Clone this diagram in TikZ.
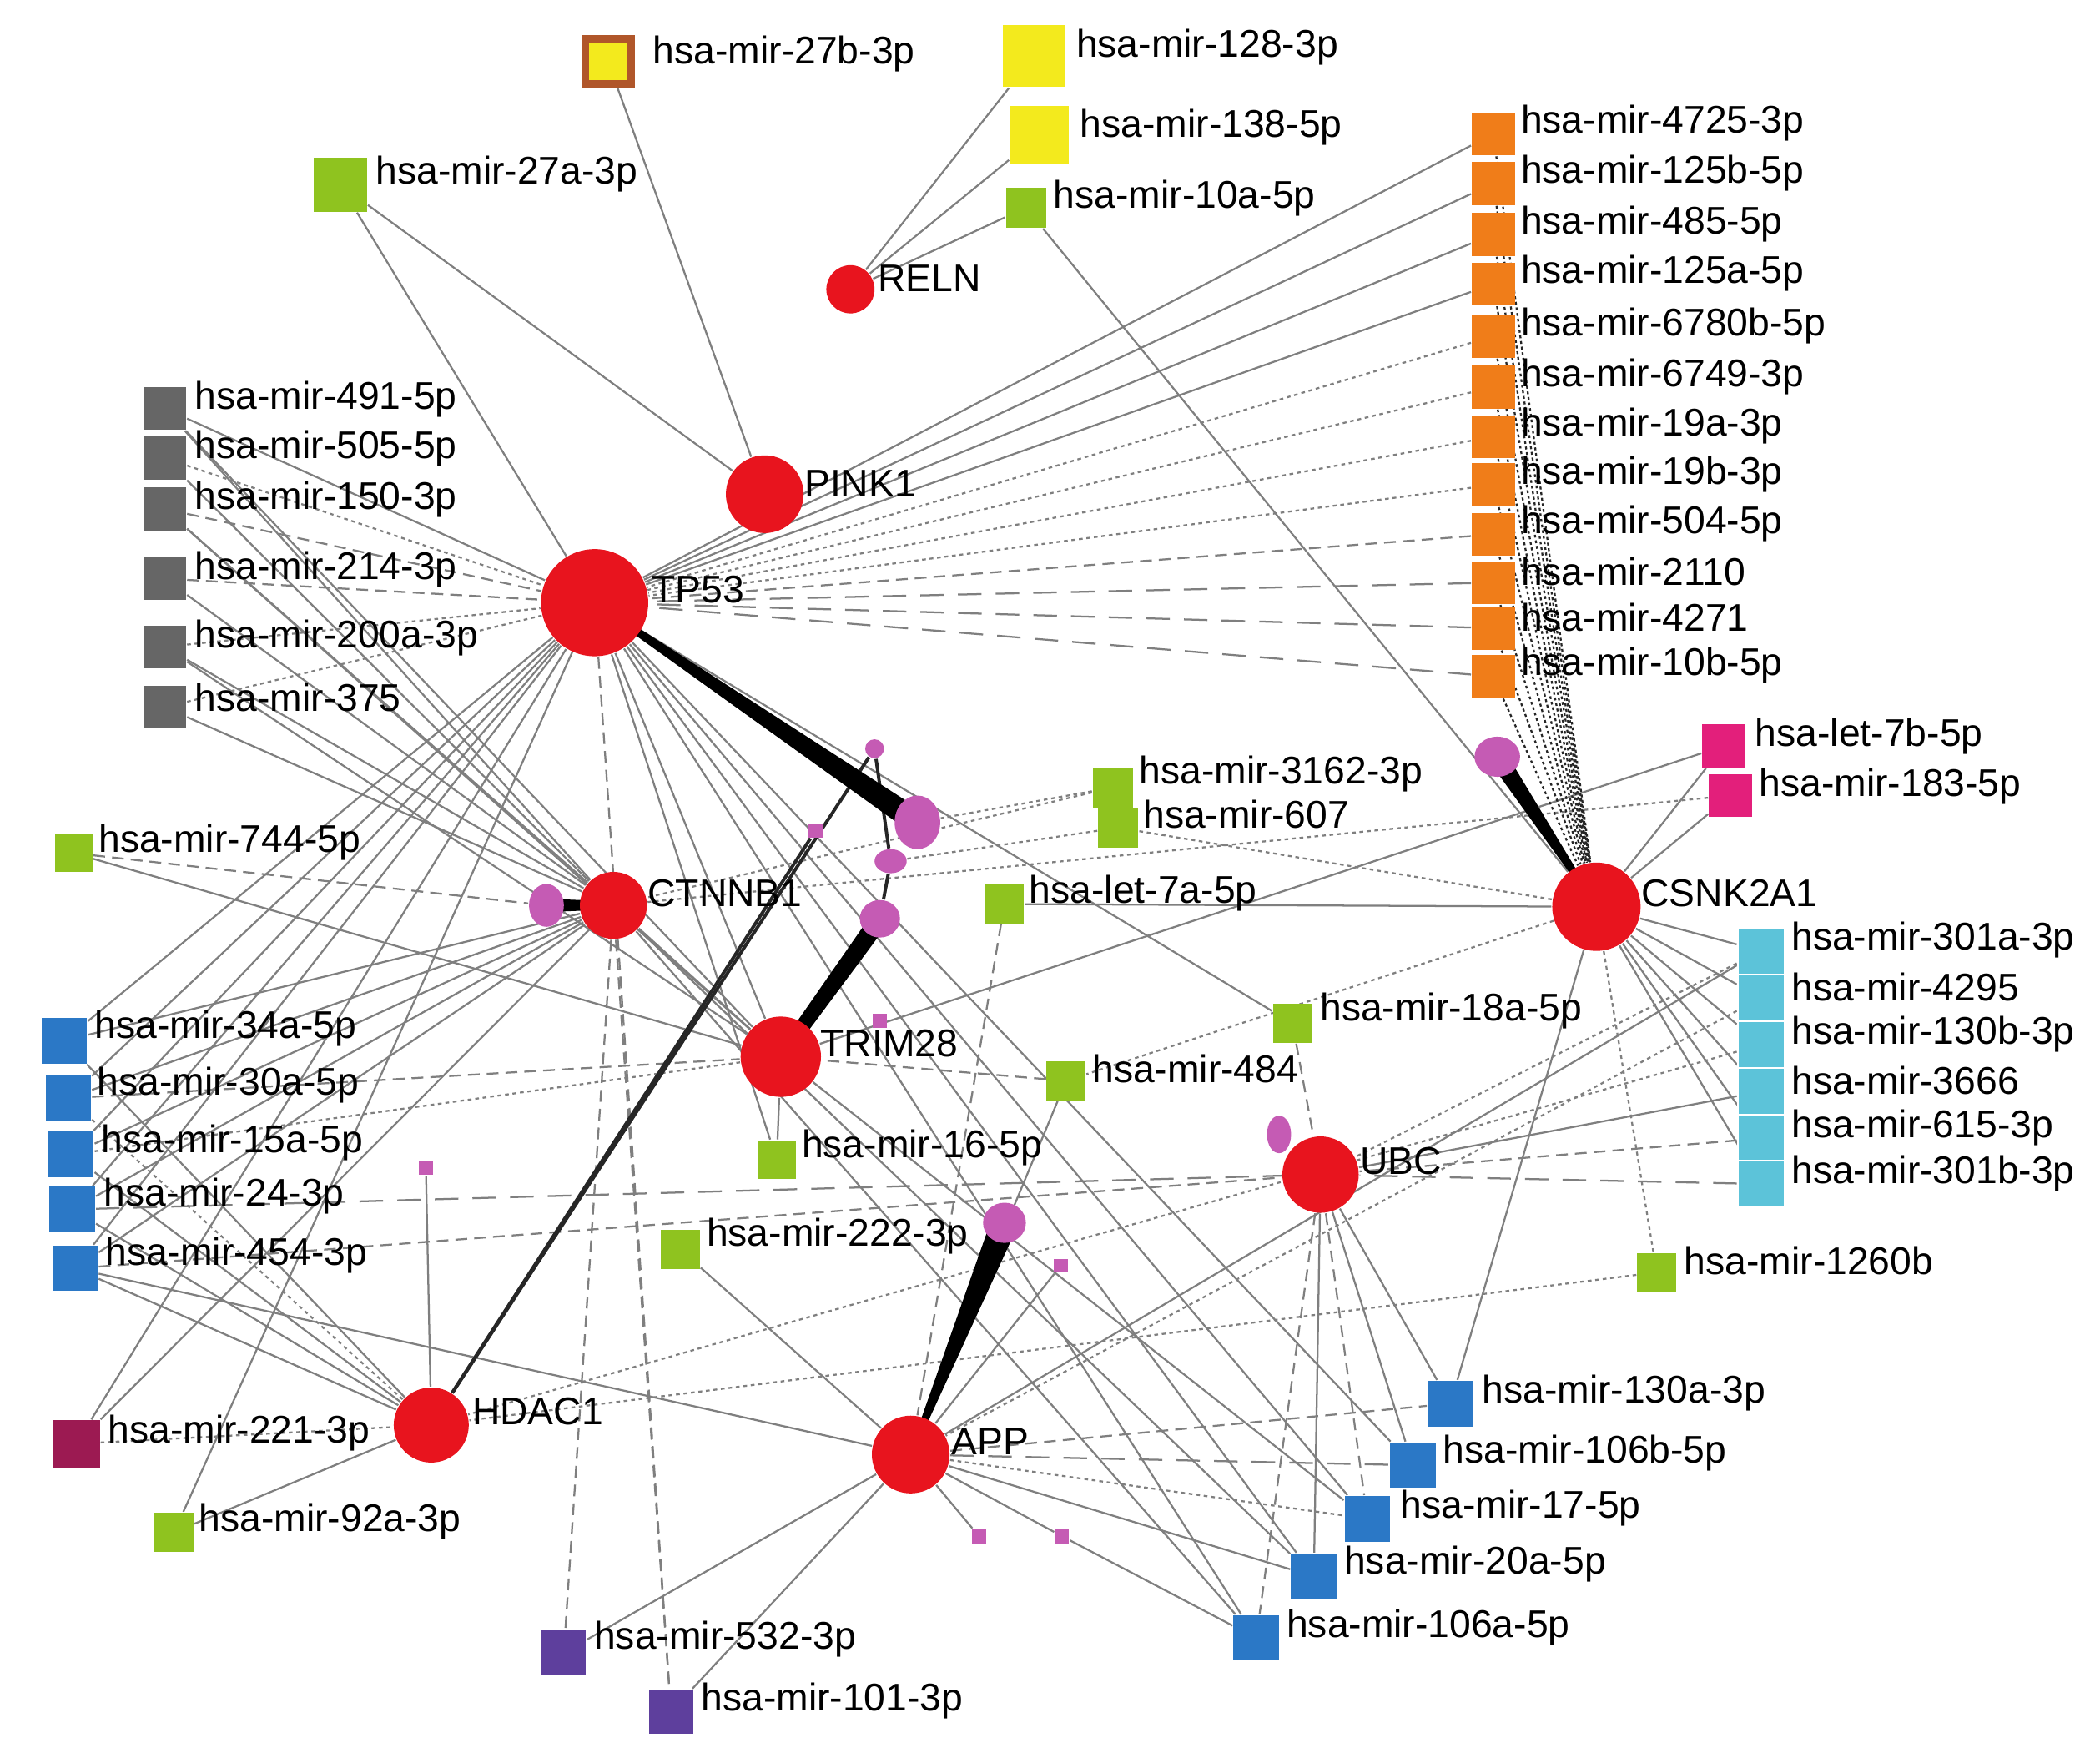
\documentclass[tikz,border=0pt]{standalone}
\usepackage{fontspec}
\setmainfont{Liberation Sans}
\usetikzlibrary{shapes.geometric,backgrounds,calc}
\definecolor{gred}{HTML}{E8141E}
\definecolor{orch}{HTML}{C55BB4}
\definecolor{ggrey}{HTML}{666666}
\definecolor{gorange}{HTML}{F07D19}
\definecolor{gyellow}{HTML}{F3EA1D}
\definecolor{ggreen}{HTML}{8FC31F}
\definecolor{gblue}{HTML}{2B78C6}
\definecolor{gcyan}{HTML}{5CC3D9}
\definecolor{gpink}{HTML}{E31F7B}
\definecolor{gcrim}{HTML}{9C1A52}
\definecolor{gpurp}{HTML}{5E3F9D}
\definecolor{gbrown}{HTML}{B0562A}
\definecolor{edgec}{HTML}{7F7F7F}
\begin{document}
\begin{tikzpicture}[x=0.1mm,y=-0.1mm,
  gene/.style={circle,fill=gred,inner sep=0pt},
  mir/.style={rectangle,inner sep=0pt,minimum size=#1},
  mir/.default=3.2mm,
  lab/.style={anchor=west,inner sep=0pt,font=\fontsize{8.2}{9}\selectfont},
  blob/.style={ellipse,fill=orch,inner sep=0pt},
  psq/.style={rectangle,fill=orch,inner sep=0pt,minimum size=1.05mm},
  es/.style={draw=edgec,line width=0.4pt},
  ed/.style={es,dash pattern=on 0.8pt off 0.8pt},
  eh/.style={es,dash pattern=on 2.5pt off 1.5pt},
  el/.style={es,dash pattern=on 5pt off 3pt},
  efan/.style={draw=black!85,line width=0.4pt,dash pattern=on 0.6pt off 0.6pt},
  eblack/.style={draw=black!85,line width=0.7pt}
]
\useasboundingbox (0,0) rectangle (1568,1312);

% ---------- genes ----------
\node[gene,minimum size=3.6mm] (reln) at (635,216) {};
\node[gene,minimum size=5.8mm] (pink1) at (571,369) {};
\node[gene,minimum size=8.0mm] (tp53) at (444,450) {};
\node[gene,minimum size=5.0mm] (ctnnb1) at (458,676) {};
\node[gene,minimum size=6.0mm] (trim28) at (583,789) {};
\node[gene,minimum size=5.7mm] (ubc) at (986,877) {};
\node[gene,minimum size=6.6mm] (csnk) at (1192,677) {};
\node[gene,minimum size=5.6mm] (hdac1) at (322,1064) {};
\node[gene,minimum size=5.8mm] (app) at (680,1086) {};

\node[lab] (lreln) at (655,208) {RELN};
\node[lab] (lpink1) at (600,361) {PINK1};
\node[lab] (ltp53) at (486,440) {TP53};
\node[lab] (lctnnb1) at (483,667) {CTNNB1};
\node[lab] (ltrim28) at (612,779) {TRIM28};
\node[lab] (lubc) at (1015,867) {UBC};
\node[lab] (lcsnk) at (1225,667) {CSNK2A1};
\node[lab] (lhdac1) at (352,1054) {HDAC1};
\node[lab] (lapp) at (710,1076) {APP};

% ---------- top miRNAs ----------
\node[mir=3.4mm,fill=gyellow,draw=gbrown,line width=0.6mm] (m27b) at (454,46) {};
\node[lab] (l27b) at (487,40) {hsa-mir-27b-3p};
\node[mir=4.6mm,fill=gyellow] (m128) at (772,42) {};
\node[lab] (l128) at (803,35) {hsa-mir-128-3p};
\node[mir=4.4mm,fill=gyellow] (m138) at (776,101) {};
\node[lab] (l138) at (806,95) {hsa-mir-138-5p};
\node[mir=3.0mm,fill=ggreen] (m10a) at (766,155) {};
\node[lab] (l10a) at (786,148) {hsa-mir-10a-5p};
\node[mir=4.0mm,fill=ggreen] (m27a) at (254,138) {};
\node[lab] (l27a) at (280,130) {hsa-mir-27a-3p};

% ---------- grey column ----------
\foreach \n/\y/\t in {g491/305/491-5p,g505/342/505-5p,g150/380/150-3p,g214/432/214-3p,g200a/483/200a-3p,g375/528/375}{
  \node[mir=3.2mm,fill=ggrey] (\n) at (123,\y) {};
  \node[lab] (l\n) at (145,\y-7) {hsa-mir-\t};
}

% ---------- orange column ----------
\foreach \n/\y/\t in {o4725/100/4725-3p,o125b/137/125b-5p,o485/175/485-5p,o125a/212/125a-5p,o6780b/251/6780b-5p,o6749/289/6749-3p,o19a/326/19a-3p,o19b/362/19b-3p,o504/399/504-5p,o2110/435/2110,o4271/469/4271,o10b/505/10b-5p}{
  \node[mir=3.2mm,fill=gorange] (\n) at (1115,\y) {};
  \node[lab] (l\n) at (1135,\y-8) {hsa-mir-\t};
}

% ---------- pink ----------
\node[mir=3.2mm,fill=gpink] (p7b) at (1287,557) {};
\node[lab] (lp7b) at (1310,550) {hsa-let-7b-5p};
\node[mir=3.2mm,fill=gpink] (p183) at (1292,594) {};
\node[lab] (lp183) at (1313,587) {hsa-mir-183-5p};

% ---------- cyan column ----------
\foreach \n/\y/\t in {c301a/710/301a-3p,c4295/745/4295,c130b/780/130b-3p,c3666/815/3666,c615/850/615-3p,c301b/884/301b-3p}{
  \node[mir=3.5mm,fill=gcyan,draw=white,line width=0.15mm] (\n) at (1315,\y) {};
  \node[lab] (l\n) at (1337,\y-8) {hsa-mir-\t};
}

% ---------- green middle ----------
\node[mir=2.8mm,fill=ggreen] (m744) at (55,637) {};
\node[lab] (l744) at (73,629) {hsa-mir-744-5p};
\node[mir=3.0mm,fill=ggreen] (m3162) at (831,588) {};
\node[lab] (l3162) at (850,578) {hsa-mir-3162-3p};
\node[mir=3.0mm,fill=ggreen] (m607) at (835,618) {};
\node[lab] (l607) at (853,608) {hsa-mir-607};
\node[mir=2.9mm,fill=ggreen] (m7a) at (750,675) {};
\node[lab] (l7a) at (768,667) {hsa-let-7a-5p};
\node[mir=2.9mm,fill=ggreen] (m18a) at (965,764) {};
\node[lab] (l18a) at (985,755) {hsa-mir-18a-5p};
\node[mir=2.9mm,fill=ggreen] (m484) at (796,807) {};
\node[lab] (l484) at (815,798) {hsa-mir-484};
\node[mir=2.9mm,fill=ggreen] (m16) at (580,866) {};
\node[lab] (l16) at (598,857) {hsa-mir-16-5p};
\node[mir=2.9mm,fill=ggreen] (m222) at (508,933) {};
\node[lab] (l222) at (527,923) {hsa-mir-222-3p};
\node[mir=2.9mm,fill=ggreen] (m1260b) at (1237,950) {};
\node[lab] (l1260b) at (1257,941) {hsa-mir-1260b};
\node[mir=2.9mm,fill=ggreen] (m92a) at (130,1144) {};
\node[lab] (l92a) at (148,1136) {hsa-mir-92a-3p};

% ---------- blue left ----------
\node[mir=3.4mm,fill=gblue] (b34a) at (48,777) {};
\node[lab] (lb34a) at (70,768) {hsa-mir-34a-5p};
\node[mir=3.4mm,fill=gblue] (b30a) at (51,820) {};
\node[lab] (lb30a) at (72,810) {hsa-mir-30a-5p};
\node[mir=3.4mm,fill=gblue] (b15a) at (53,862) {};
\node[lab] (lb15a) at (75,853) {hsa-mir-15a-5p};
\node[mir=3.4mm,fill=gblue] (b24) at (54,903) {};
\node[lab] (lb24) at (77,893) {hsa-mir-24-3p};
\node[mir=3.4mm,fill=gblue] (b454) at (56,947) {};
\node[lab] (lb454) at (78,937) {hsa-mir-454-3p};
\node[mir=3.5mm,fill=gcrim] (m221) at (57,1078) {};
\node[lab] (l221) at (80,1070) {hsa-mir-221-3p};

% ---------- purple ----------
\node[mir=3.3mm,fill=gpurp] (v532) at (421,1234) {};
\node[lab] (lv532) at (443,1224) {hsa-mir-532-3p};
\node[mir=3.3mm,fill=gpurp] (v101) at (501,1278) {};
\node[lab] (lv101) at (523,1270) {hsa-mir-101-3p};

% ---------- blue bottom right ----------
\node[mir=3.4mm,fill=gblue] (b130a) at (1083,1048) {};
\node[lab] (lb130a) at (1106,1040) {hsa-mir-130a-3p};
\node[mir=3.4mm,fill=gblue] (b106b) at (1055,1094) {};
\node[lab] (lb106b) at (1077,1085) {hsa-mir-106b-5p};
\node[mir=3.4mm,fill=gblue] (b17) at (1021,1134) {};
\node[lab] (lb17) at (1045,1126) {hsa-mir-17-5p};
\node[mir=3.4mm,fill=gblue] (b20a) at (981,1177) {};
\node[lab] (lb20a) at (1003,1168) {hsa-mir-20a-5p};
\node[mir=3.4mm,fill=gblue] (b106a) at (938,1223) {};
\node[lab] (lb106a) at (960,1215) {hsa-mir-106a-5p};

% ---------- pink blobs ----------
\node[blob,minimum width=3.4mm,minimum height=4.0mm] (bA) at (685,614) {};
\node[blob,minimum width=1.4mm,minimum height=1.4mm] (bB) at (653,559) {};
\node[psq] (bC) at (609,620) {};
\node[blob,minimum width=2.4mm,minimum height=1.8mm] (bD) at (665,643) {};
\node[blob,minimum width=3.0mm,minimum height=2.8mm] (bE) at (657,686) {};
\node[psq] (bF) at (657,762) {};
\node[blob,minimum width=2.6mm,minimum height=3.2mm] (bCt) at (408,676) {};
\node[blob,minimum width=1.8mm,minimum height=2.8mm] (bU) at (955,847) {};
\node[blob,minimum width=3.4mm,minimum height=3.0mm] (bCs) at (1118,565) {};
\node[blob,minimum width=3.2mm,minimum height=3.0mm] (bAp) at (750,913) {};
\node[psq] (sq1) at (318,872) {};
\node[psq] (sq2) at (792,945) {};
\node[psq] (sq3) at (731,1147) {};
\node[psq] (sq4) at (793,1147) {};

% ---------- edges ----------
\begin{pgfonlayer}{background}
\fill[white] (0,0) rectangle (1568,1312);
\foreach \a/\b in {m128/reln,m138/reln,m10a/reln,m10a/csnk,m27a/tp53,m27a/pink1,m27b/pink1,
  g491/tp53,g491/ctnnb1,g505/ctnnb1,g150/ctnnb1,g214/ctnnb1,g200a/ctnnb1,g375/ctnnb1,g200a/trim28,g150/trim28,g491/trim28,
  o4725/tp53,o125b/tp53,o485/tp53,o125a/tp53,
  p7b/csnk,p183/csnk,p7b/trim28,
  c301a/csnk,c4295/csnk,c130b/csnk,c3666/csnk,c615/csnk,c301b/csnk,
  b130a/csnk,m7a/csnk,m744/trim28,
  b34a/tp53,b30a/tp53,b15a/tp53,b24/tp53,b454/tp53,m221/tp53,m92a/tp53,
  b34a/ctnnb1,b15a/ctnnb1,m221/ctnnb1,b30a/ctnnb1,b24/ctnnb1,b454/ctnnb1,
  b34a/hdac1,b24/hdac1,b454/hdac1,m92a/hdac1,b15a/hdac1,
  b454/app,tp53/m16,tp53/m18a,tp53/b17,tp53/b20a,tp53/b106b,tp53/trim28,tp53/b106a,
  ctnnb1/b106a,ctnnb1/b20a,ctnnb1/trim28,trim28/m16,trim28/b17,
  m484/app,m222/app,v532/app,v101/app,app/b20a,c301a/app,
  ubc/b130a,ubc/b106b,ubc/b20a,c3666/ubc,
  hdac1/sq1,app/sq2,app/sq3,app/sq4,sq4/b106a}
  \draw[es] (\a) -- (\b);
\foreach \a/\b in {o6780b/tp53,o6749/tp53,o19a/tp53,o19b/tp53,
  g505/tp53,g200a/tp53,g375/tp53,
  m3162/bA,m607/bD,m607/csnk,m3162/ctnnb1,csnk/m484,c301a/ubc,b30a/hdac1,
  b15a/trim28,m221/hdac1,m1260b/csnk,m1260b/hdac1,app/b17,c4295/app,c130b/hdac1,p183/ctnnb1}
  \draw[ed] (\a) -- (\b);
\foreach \a/\b in {o504/tp53,g150/tp53,g214/tp53,m744/bCt,tp53/v101,ctnnb1/v532,ctnnb1/v101,
  m7a/app,m484/trim28,m18a/ubc,ubc/b17,ubc/b106a,app/b130a,c615/ubc,b30a/trim28,b454/ubc}
  \draw[eh] (\a) -- (\b);
\foreach \a/\b in {o2110/tp53,o4271/tp53,o10b/tp53,b24/ubc,c301b/ubc,app/b106b}
  \draw[el] (\a) -- (\b);
\foreach \a in {o4725,o125b,o485,o125a,o6780b,o6749,o19a,o19b,o504,o2110,o4271,o10b}
  \draw[efan] (\a) -- (csnk);
\foreach \a/\b in {hdac1/bB,hdac1/bC,bE/bD,bD/bB}
  \draw[eblack] (\a) -- (\b);
% thick wedges
\fill[black] ($(tp53)!0.2mm!90:(bA)$) -- ($(bA)!0.9mm!-90:(tp53)$) -- ($(bA)!0.9mm!90:(tp53)$) -- ($(tp53)!0.2mm!-90:(bA)$) -- cycle;
\fill[black] ($(trim28)!0.5mm!90:(bE)$) -- ($(bE)!0.7mm!-90:(trim28)$) -- ($(bE)!0.7mm!90:(trim28)$) -- ($(trim28)!0.5mm!-90:(bE)$) -- cycle;
\fill[black] ($(app)!0.15mm!90:(bAp)$) -- ($(bAp)!1.0mm!-90:(app)$) -- ($(bAp)!1.0mm!90:(app)$) -- ($(app)!0.15mm!-90:(bAp)$) -- cycle;
\fill[black] ($(csnk)!0.15mm!90:(bCs)$) -- ($(bCs)!0.7mm!-90:(csnk)$) -- ($(bCs)!0.7mm!90:(csnk)$) -- ($(csnk)!0.15mm!-90:(bCs)$) -- cycle;
\fill[black] ($(ctnnb1)!0.3mm!90:(bCt)$) -- ($(bCt)!0.5mm!-90:(ctnnb1)$) -- ($(bCt)!0.5mm!90:(ctnnb1)$) -- ($(ctnnb1)!0.3mm!-90:(bCt)$) -- cycle;
\end{pgfonlayer}
\end{tikzpicture}
\end{document}
